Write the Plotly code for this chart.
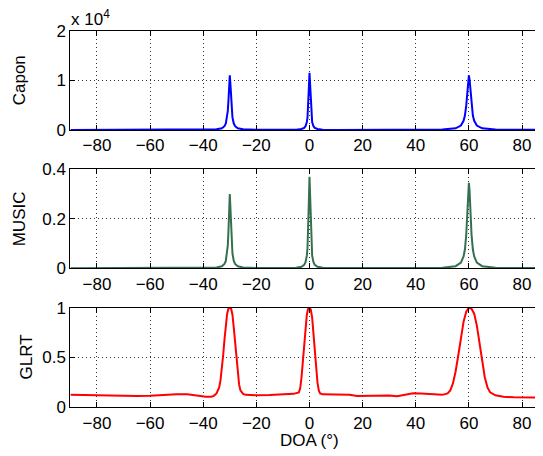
import plotly.graph_objects as go

# ---------------- data ----------------
capon_doa = [-90, -60, -45, -40, -35, -33, -32, -31.5, -31, -30.75, -30.5, -30.25, -30,
             -29.75, -29.5, -29.25, -29, -28.5, -28, -27, -25, -20, -10, -5, -3, -2,
             -1.5, -1, -0.75, -0.5, -0.25, 0, 0.25, 0.5, 0.75, 1, 1.5, 2, 3, 5, 10,
             30, 45, 50, 55, 57, 58, 58.5, 59, 59.25, 59.5, 59.75, 60, 60.25, 60.5,
             60.75, 61, 61.5, 62, 63, 65, 70, 80, 90]
capon_val = [0.001, 0.001, 0.002, 0.003, 0.013, 0.036, 0.077, 0.13, 0.255, 0.385, 0.60, 0.91, 1.10,
             0.91, 0.60, 0.385, 0.255, 0.13, 0.077, 0.036, 0.013, 0.005, 0.003, 0.007, 0.02, 0.044,
             0.076, 0.16, 0.255, 0.45, 0.83, 1.15, 0.83, 0.45, 0.255, 0.16, 0.076, 0.044, 0.02, 0.007, 0.002,
             0.002, 0.004, 0.009, 0.034, 0.09, 0.185, 0.29, 0.49, 0.65, 0.84, 1.02, 1.10, 1.02, 0.84,
             0.65, 0.49, 0.29, 0.185, 0.09, 0.034, 0.009, 0.003, 0.002]

music_doa = [-90, -60, -45, -40, -35, -33, -32, -31.5, -31, -30.75, -30.5, -30.25, -30,
             -29.75, -29.5, -29.25, -29, -28.5, -28, -27, -25, -20, -10, -5, -3, -2,
             -1.5, -1, -0.75, -0.5, -0.25, 0, 0.25, 0.5, 0.75, 1, 1.5, 2, 3, 5, 10,
             30, 45, 50, 55, 57, 58, 58.5, 59, 59.25, 59.5, 59.75, 60, 60.25, 60.5,
             60.75, 61, 61.5, 62, 63, 65, 70, 80, 90]
music_val = [0.0005, 0.0005, 0.0008, 0.001, 0.003, 0.008, 0.0176, 0.03, 0.06, 0.092, 0.15, 0.24, 0.30,
             0.24, 0.15, 0.092, 0.06, 0.03, 0.0176, 0.008, 0.003, 0.0012, 0.001, 0.0024, 0.0064, 0.014,
             0.0245, 0.051, 0.082, 0.145, 0.266, 0.37, 0.266, 0.145, 0.082, 0.051, 0.0245, 0.014, 0.0064, 0.0024, 0.0008,
             0.0005, 0.001, 0.002, 0.0085, 0.023, 0.048, 0.076, 0.135, 0.184, 0.248, 0.314, 0.345, 0.314, 0.248,
             0.184, 0.135, 0.076, 0.048, 0.023, 0.0085, 0.002, 0.001, 0.0008]

glrt_doa = [-90, -85, -80, -75, -70, -65, -60, -55, -50, -46, -42, -39, -37, -36, -35, -34,
            -33.5, -33, -32.5, -32, -31.5, -31, -30.5, -30, -29.5, -29, -28.5, -28, -27.5,
            -27, -26.5, -26, -25, -24, -20, -15, -10, -6, -4, -3.5, -3, -2.5, -2, -1.5, -1,
            -0.5, 0, 0.5, 1, 1.5, 2, 2.5, 3, 3.5, 4, 5, 8, 12, 15, 18, 22, 26, 30, 33, 36,
            39, 42, 46, 50, 52, 53, 54, 55, 56, 57, 58, 59, 60, 61, 62, 63, 64, 65, 66, 67,
            68, 70, 73, 77, 82, 90]
glrt_val = [0.127, 0.125, 0.12, 0.115, 0.112, 0.113, 0.117, 0.125, 0.132, 0.13, 0.115, 0.105, 0.107, 0.115, 0.14, 0.2,
            0.27, 0.38, 0.52, 0.68, 0.83, 0.94, 0.99, 1.0, 0.99, 0.93, 0.8, 0.64, 0.47,
            0.33, 0.23, 0.17, 0.135, 0.125, 0.12, 0.123, 0.13, 0.135, 0.15, 0.19, 0.3, 0.45, 0.62, 0.8, 0.93,
            0.99, 1.0, 0.98, 0.9, 0.74, 0.55, 0.38, 0.25, 0.17, 0.14, 0.13, 0.128, 0.132, 0.125, 0.113, 0.115, 0.12, 0.118, 0.112, 0.125,
            0.14, 0.138, 0.128, 0.125, 0.14, 0.17, 0.24, 0.36, 0.52, 0.7, 0.86, 0.96, 1.0, 0.99, 0.94, 0.82, 0.63, 0.45, 0.3, 0.2,
            0.15, 0.12, 0.105, 0.1, 0.098, 0.098]

x_ticks = [-80, -60, -40, -20, 0, 20, 40, 60, 80]
capon_ticks = [0, 1, 2]
capon_ticklabels = ["0", "1", "2"]
music_ticks = [0, 0.2, 0.4]
music_ticklabels = ["0", "0.2", "0.4"]
glrt_ticks = [0, 0.5, 1]
glrt_ticklabels = ["0", "0.5", "1"]

# page has an 8px body margin: figure is laid out in page coords minus 8
OFF = 8
W, H = 543 - OFF, 456 - OFF
FONT = "Liberation Sans, Arial, sans-serif"
FS = 17

fig = go.Figure()
fig.add_trace(go.Scatter(x=capon_doa, y=capon_val, mode="lines", line=dict(color="#0000ff", width=2),
                         xaxis="x", yaxis="y", showlegend=False))
fig.add_trace(go.Scatter(x=music_doa, y=music_val, mode="lines", line=dict(color="#34704f", width=2),
                         xaxis="x2", yaxis="y2", showlegend=False))
fig.add_trace(go.Scatter(x=glrt_doa, y=glrt_val, mode="lines", line=dict(color="#ff0000", width=2),
                         xaxis="x3", yaxis="y3", showlegend=False))

def px(p):
    return (p - OFF) / W

def py(p):
    return 1 - (p - OFF) / H

panels = [(30.7, 130.0), (169.3, 268.3), (307.7, 407.3)]
xrange_ = [-90, 87.9]
GRID = dict(showgrid=True, gridcolor="#333333", griddash="1px,3px", gridwidth=1)

xcommon = dict(range=xrange_, domain=[px(70.4), 1.0], tickvals=x_ticks, ticks="inside", ticklen=5,
               tickcolor="black", showline=True, linecolor="black", linewidth=1, mirror="ticks",
               zeroline=False, tickfont=dict(family=FONT, size=FS, color="black"), fixedrange=True,
               **GRID)
ycommon = dict(ticks="inside", ticklen=5, tickcolor="black", showline=True, linecolor="black",
               linewidth=1, zeroline=False, tickfont=dict(family=FONT, size=FS, color="black"),
               fixedrange=True, **GRID)

layout = dict(width=W, height=H, margin=dict(l=0, r=0, t=0, b=0, autoexpand=False),
              paper_bgcolor="white", plot_bgcolor="white", showlegend=False)
names = ["", "2", "3"]
yt = [(capon_ticks, capon_ticklabels, [0, 2]), (music_ticks, music_ticklabels, [0, 0.4]),
      (glrt_ticks, glrt_ticklabels, [0, 1])]
for i, (top, bot) in enumerate(panels):
    n = names[i]
    layout["xaxis" + n] = dict(xcommon, anchor="y" + n)
    tv, tt, rg = yt[i]
    layout["yaxis" + n] = dict(ycommon, anchor="x" + n, domain=[py(bot), py(top)], range=rg,
                               tickvals=tv, ticktext=tt)
fig.update_layout(**layout)

ann = [
    dict(text="x 10<sup>4</sup>", x=px(69), y=py(18), xanchor="left", yanchor="middle"),
    dict(text="Capon", x=px(19), y=py(80.3), textangle=-90, xanchor="center", yanchor="middle"),
    dict(text="MUSIC", x=px(19.5), y=py(218.8), textangle=-90, xanchor="center", yanchor="middle"),
    dict(text="GLRT", x=px(26), y=py(357.5), textangle=-90, xanchor="center", yanchor="middle"),
    dict(text="DOA (°)", x=px(309), y=py(440), xanchor="center", yanchor="middle"),
]
for a in ann:
    fig.add_annotation(xref="paper", yref="paper", showarrow=False,
                       font=dict(family=FONT, size=FS, color="black"), **a)

fig.write_html("out.html")
